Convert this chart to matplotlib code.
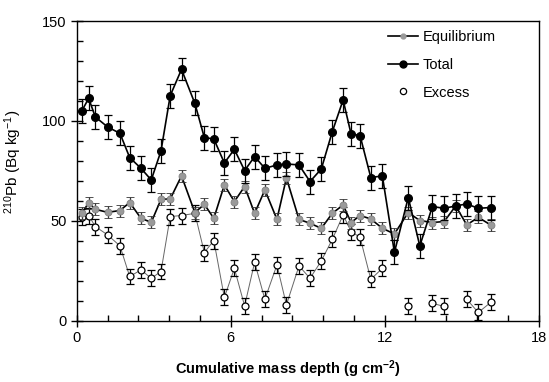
import numpy as np
import matplotlib
matplotlib.use("Agg")
import matplotlib.pyplot as plt
from matplotlib.lines import Line2D
from matplotlib.ticker import MultipleLocator

plt.rcParams['font.family'] = ['Liberation Sans', 'DejaVu Sans']
plt.rcParams['mathtext.default'] = 'regular'

# cumulative mass depth (g cm-2)
depth = [0.2, 0.46, 0.72, 1.2, 1.68, 2.06, 2.5, 2.9, 3.28, 3.64, 4.08,
         4.6, 4.97, 5.34, 5.75, 6.14, 6.54, 6.93, 7.33, 7.8, 8.17,
         8.66, 9.09, 9.53, 9.96, 10.38, 10.69, 11.04, 11.46, 11.91,
         12.38, 12.92, 13.37, 13.86, 14.32, 14.77, 15.2, 15.65, 16.13]

total = [105.2, 111.3, 102, 97, 93.8, 81.7, 76.3, 70.5, 85, 112.7, 125.8,
         108.8, 91.7, 91, 79, 85.8, 75.2, 82.2, 76.3, 78, 78.5,
         78, 69.7, 76, 94.7, 110.5, 93.5, 92.7, 71.7, 72.5,
         34.3, 61.7, 37.5, 57.2, 56.3, 57.5, 58.5, 56.3, 56.7]
total_err = [6, 6, 6, 6, 6, 6, 6, 6, 6, 6, 5.5,
             6, 6, 6, 6, 6, 6, 6, 6, 6, 6,
             6, 6, 6, 6, 6, 6, 6, 6, 6,
             6, 6, 6, 6, 6, 6, 6, 6, 6]

equilibrium = [53.8, 59.2, 55.8, 54.3, 55.2, 59.2, 51.3, 49.3, 60.8, 61, 72.5,
               54.2, 58.3, 51.3, 68, 59.7, 67.2, 53.8, 65.5, 50.8, 71.5,
               50.8, 48.8, 46.3, 53.8, 58, 49.2, 52.7, 51, 46.3,
               43.5, 54.2, 50.2, 49.2, 49.7, 57.5, 48, 51.8, 48]
equilibrium_err = [3] * len(depth)

excess = [52.2, 52.7, 47.2, 43, 37.5, 22.2, 25.5, 21.3, 24.7, 52.2, 52.7,
          53.8, 34.2, 40.2, 11.7, 26.3, 7.5, 29.3, 10.8, 28, 8,
          27.5, 21.3, 30, 40.8, 53, 44.7, 41.8, 20.8, 26.3,
          np.nan, 7.5, np.nan, 8.8, 7.2, np.nan, 10.8, 4.2, 9.2]
excess_err = [4] * len(depth)

fig = plt.figure(figsize=(5.49, 3.82), dpi=100)
ax = fig.add_axes([0.140, 0.160, 0.841, 0.785])

# excess: thin grey line, open circles
ax.plot(depth, excess, color='#666666', lw=0.7, zorder=2)
ax.errorbar(depth, excess, yerr=excess_err, fmt='o', ms=5, mfc='white',
            mec='black', mew=0.9, ecolor='black', elinewidth=0.9, capsize=3,
            capthick=0.9, zorder=3)

# equilibrium: black line, grey markers
ax.plot(depth, equilibrium, color='black', lw=1.2, zorder=4)
ax.errorbar(depth, equilibrium, yerr=equilibrium_err, fmt='o',
            ms=5, mfc='#9a9a9a', mec='#808080', mew=0.6,
            ecolor='#333333', elinewidth=0.9, capsize=3, capthick=0.9,
            zorder=4)

# total: black line, filled black circles
ax.errorbar(depth, total, yerr=total_err, fmt='-o', color='black', lw=1.2,
            ms=5.5, mfc='black', mec='black', ecolor='black', elinewidth=0.9,
            capsize=3, capthick=0.9, zorder=5)

ax.set_xlim(0, 18)
ax.set_ylim(0, 150)
ax.xaxis.set_major_locator(MultipleLocator(6))
ax.xaxis.set_minor_locator(MultipleLocator(1.2))
ax.yaxis.set_major_locator(MultipleLocator(50))
ax.yaxis.set_minor_locator(MultipleLocator(10))
ax.tick_params(which='major', direction='inout', length=8, width=1,
               labelsize=10.5, pad=3.5)
ax.tick_params(which='minor', direction='in', length=4, width=1)
for sp in ax.spines.values():
    sp.set_linewidth(1)

ax.set_xlabel('Cumulative mass depth (g cm$^{-2}$)', fontsize=10.5,
              fontweight='bold')
ax.xaxis.set_label_coords(0.457, -0.125)
ax.set_ylabel('$^{210}$Pb (Bq kg$^{-1}$)', fontsize=11)
ax.yaxis.set_label_coords(-0.115, 0.53)

handles = [
    Line2D([], [], color='black', lw=1.2, marker='o', ms=3.5,
           mfc='#9a9a9a', mec='#9a9a9a'),
    Line2D([], [], color='black', lw=1.2, marker='o', ms=5, mfc='black',
           mec='black'),
    Line2D([], [], ls='none', marker='o', ms=4.5, mfc='white', mec='black',
           mew=0.9),
]
ax.legend(handles, ['Equilibrium', 'Total', 'Excess'], loc='upper left',
          bbox_to_anchor=(0.661, 0.99), frameon=False, fontsize=10.5,
          handlelength=2.05, labelspacing=0.95, handletextpad=0.35,
          borderaxespad=0)

fig.savefig('out.png', dpi=100)
